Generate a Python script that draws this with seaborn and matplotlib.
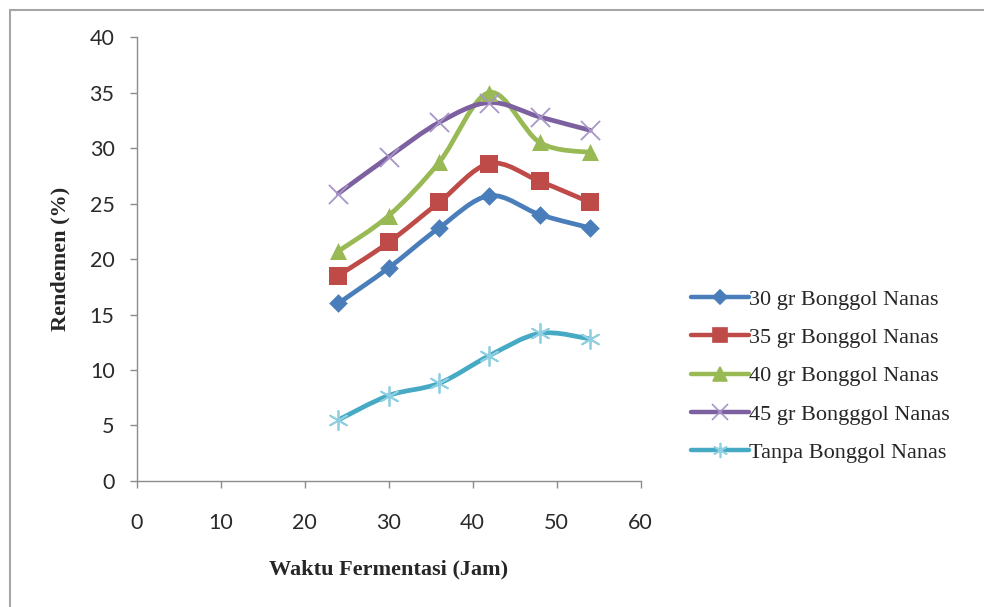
import matplotlib
matplotlib.use('Agg')
import matplotlib.pyplot as plt
from matplotlib.path import Path
from matplotlib.patches import PathPatch, Rectangle
from matplotlib.lines import Line2D
import numpy as np
import seaborn as sns
import pandas as pd

# waktu fermentasi (jam)
waktu = [24, 30, 36, 42, 48, 54]

# rendemen (%) per perlakuan
r30 = [16.0, 19.2, 22.8, 25.7, 24.0, 22.8]
r35 = [18.5, 21.5, 25.1, 28.6, 27.0, 25.1]
r40 = [20.7, 23.9, 28.7, 35.0, 30.5, 29.6]
r45 = [25.9, 29.2, 32.3, 34.1, 32.8, 31.6]
tanpa = [5.5, 7.7, 8.8, 11.3, 13.3, 12.8]

labels = ["30 gr Bonggol Nanas", "35 gr Bonggol Nanas", "40 gr Bonggol Nanas",
          "45 gr Bongggol Nanas", "Tanpa Bonggol Nanas"]
series = [r30, r35, r40, r45, tanpa]

warna = ["#4a7ebb", "#be4b48", "#98b954", "#7d60a0", "#46aac5"]
warna_marker = ["#4a7ebb", "#be4b48", "#98b954", "#a996c8", "#8ecfe2"]
marker = ["D", "s", "^", "x", (6, 2, 0)]
ukuran = [90, 150, 150, 190, 190]

rows = []
for lab, ys in zip(labels, series):
    for x, y in zip(waktu, ys):
        rows.append({'waktu': x, 'rendemen': y, 'perlakuan': lab})
Data = pd.DataFrame(rows)

sns.set_style('white')
fig = plt.figure(figsize=(9.84, 6.07), dpi=100)
ax = fig.add_axes([0.139, 0.2076, 0.512, 0.7314])

def kurva(xs, ys):
    # garis halus ala excel (bezier)
    p = np.column_stack([xs, ys]).astype(float)
    n = len(p)
    verts = [p[0]]
    codes = [Path.MOVETO]
    for i in range(n - 1):
        p0 = p[i - 1] if i > 0 else p[i]
        p3 = p[i + 2] if i + 2 < n else p[i + 1]
        c1 = p[i] + (p[i + 1] - p0) / 6.0
        c2 = p[i + 1] - (p3 - p[i]) / 6.0
        verts += [c1, c2, p[i + 1]]
        codes += [Path.CURVE4] * 3
    return Path(verts, codes)

for lab, ys, c in zip(labels, series, warna):
    ax.add_patch(PathPatch(kurva(waktu, ys), facecolor='none', edgecolor=c,
                           lw=3.4, zorder=2, capstyle='round', joinstyle='round'))

for lab, c, mc, m, s in zip(labels, warna, warna_marker, marker, ukuran):
    sub = Data[Data['perlakuan'] == lab]
    if m in ("x", (6, 2, 0)):
        ax.scatter(sub['waktu'], sub['rendemen'], marker=m, s=s, color=mc,
                   linewidths=1.3, zorder=3)
    else:
        sns.scatterplot(data=sub, x='waktu', y='rendemen', marker=m, s=s,
                        color=mc, edgecolor=mc, linewidth=0, zorder=3, ax=ax, legend=False)

ax.set_xlim(0, 60)
ax.set_ylim(0, 40)
ax.set_xticks(range(0, 61, 10))
ax.set_yticks(range(0, 41, 5))
for sp in ['top', 'right']:
    ax.spines[sp].set_visible(False)
for sp in ['left', 'bottom']:
    ax.spines[sp].set_color('#8c8c8c')
    ax.spines[sp].set_linewidth(1.0)
ax.tick_params(axis='both', direction='out', length=5, width=1.0, color='#8c8c8c',
               labelsize=15.5, labelcolor='#2a2a2a', bottom=True, left=True)
ax.tick_params(axis='x', pad=18)
ax.tick_params(axis='y', pad=11)
for t in ax.get_xticklabels() + ax.get_yticklabels():
    t.set_family('Lato')

ax.set_xlabel('Waktu Fermentasi (Jam)', family='Liberation Serif', weight='bold',
              fontsize=16, labelpad=19)
ax.set_ylabel('Rendemen (%)', family='Liberation Serif', weight='bold',
              fontsize=16, labelpad=14)

handles = []
for c, mc, m, s in zip(warna, warna_marker, marker, ukuran):
    ms = np.sqrt(s)
    handles.append(Line2D([0], [0], color=c, lw=3.2, marker=m, markersize=ms * 0.8,
                          markerfacecolor=mc, markeredgecolor=mc, markeredgewidth=1.2))
leg = ax.legend(handles, labels, loc='center left', bbox_to_anchor=(1.06, 0.236),
                frameon=False, handlelength=2.6, handletextpad=0.0,
                labelspacing=0.8, prop={'family': 'Liberation Serif', 'size': 16})

fig.patches.append(Rectangle((10 / 984, -0.05), 1.2, 1 - 10 / 607 + 0.05,
                             transform=fig.transFigure, fill=False,
                             edgecolor='#a6a6a6', lw=1.5))

plt.savefig('out.png', dpi=100)
